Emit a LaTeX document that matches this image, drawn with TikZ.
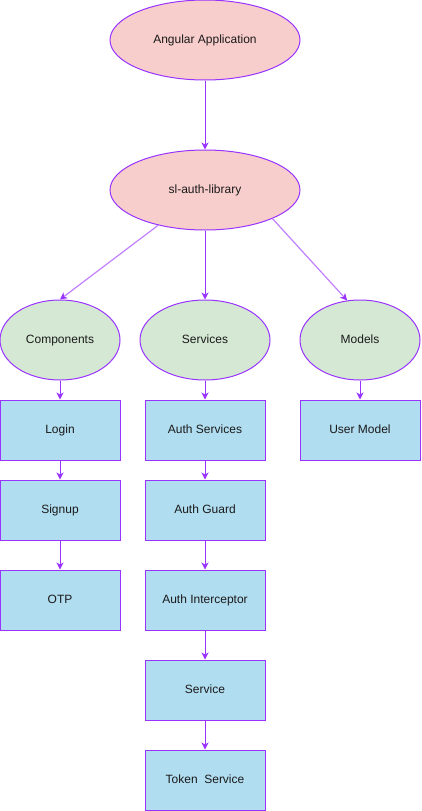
\documentclass[tikz,border=0pt]{standalone}
\usepackage{fontspec}
\setmainfont{Liberation Sans}
\usetikzlibrary{shapes.geometric,arrows.meta}
\definecolor{stroke}{HTML}{9933FF}
\definecolor{lightstroke}{HTML}{C080FF}
\definecolor{pinkfill}{HTML}{F8CECC}
\definecolor{greenfill}{HTML}{D5E8D4}
\definecolor{bluefill}{HTML}{B1DDF0}
\definecolor{txt}{HTML}{1A1A1A}
\begin{document}
\begin{tikzpicture}[x=1pt,y=-1pt,
  every node/.style={font=\fontsize{12}{14}\selectfont, text=txt, text height=8.6pt, text depth=2.4pt},
  pinkell/.style={ellipse, draw=stroke, fill=pinkfill, line width=1pt, minimum width=190pt, minimum height=80pt, inner sep=0pt},
  greenell/.style={ellipse, draw=stroke, fill=greenfill, line width=1pt, minimum height=80pt, inner sep=0pt},
  bluebox/.style={rectangle, draw=stroke, fill=bluefill, line width=1pt, minimum width=120pt, minimum height=60pt, inner sep=0pt},
  arr/.style={draw=stroke, line width=1pt, -{Stealth[length=7pt,width=7pt,inset=2pt]}},
  larr/.style={draw=lightstroke, line width=1.2pt, -{Stealth[length=7pt,width=7pt,inset=2pt,color=stroke]}}]
\useasboundingbox (0,0) rectangle (421,811);
\node[pinkell] (app) at (205,40) {Angular Application};
\node[pinkell] (lib) at (205,190) {sl-auth-library};
\node[greenell, minimum width=120pt] (comp) at (60,340) {Components};
\node[greenell, minimum width=130pt] (serv) at (205,340) {Services};
\node[greenell, minimum width=120pt] (mod) at (360,340) {Models};
\node[bluebox] (login) at (60,430) {Login};
\node[bluebox] (signup) at (60,510) {Signup};
\node[bluebox] (otp) at (60,600) {OTP};
\node[bluebox] (as) at (205,430) {Auth Services};
\node[bluebox] (ag) at (205,510) {Auth Guard};
\node[bluebox] (ai) at (205,600) {Auth Interceptor};
\node[bluebox] (svc) at (205,690) {Service};
\node[bluebox] (tok) at (205,780) {Token\ \ Service};
\node[bluebox] (um) at (360,430) {User Model};
\draw[arr] (app) -- (lib);
\draw[larr] (lib.217) -- (comp.north);
\draw[larr] (lib.-23) -- (mod.108);
\draw[arr] (lib) -- (serv);
\draw[arr] (comp) -- (login);
\draw[arr] (login) -- (signup);
\draw[arr] (signup) -- (otp);
\draw[arr] (serv) -- (as);
\draw[arr] (as) -- (ag);
\draw[arr] (ag) -- (ai);
\draw[arr] (ai) -- (svc);
\draw[arr] (svc) -- (tok);
\draw[arr] (mod) -- (um);
\end{tikzpicture}
\end{document}
